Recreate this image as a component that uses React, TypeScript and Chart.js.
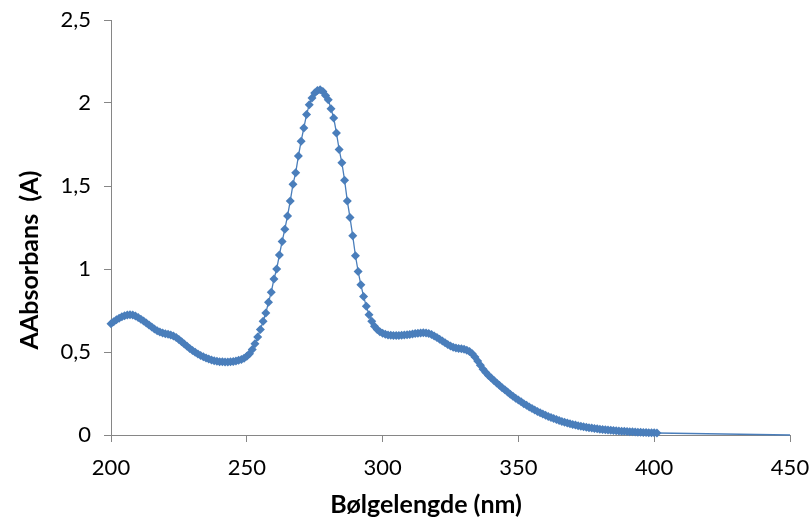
import React, { useEffect, useRef } from "react";
import { Chart, registerables } from "chart.js";

Chart.register(...registerables);

const wavelengths: number[] = [
  200, 201, 202, 203, 204, 205, 206, 207, 208, 209,
  210, 211, 212, 213, 214, 215, 216, 217, 218, 219,
  220, 221, 222, 223, 224, 225, 226, 227, 228, 229,
  230, 231, 232, 233, 234, 235, 236, 237, 238, 239,
  240, 241, 242, 243, 244, 245, 246, 247, 248, 249,
  250, 251, 252, 253, 254, 255, 256, 257, 258, 259,
  260, 261, 262, 263, 264, 265, 266, 267, 268, 269,
  270, 271, 272, 273, 274, 275, 276, 277, 278, 279,
  280, 281, 282, 283, 284, 285, 286, 287, 288, 289,
  290, 291, 292, 293, 294, 295, 296, 297, 298, 299,
  300, 301, 302, 303, 304, 305, 306, 307, 308, 309,
  310, 311, 312, 313, 314, 315, 316, 317, 318, 319,
  320, 321, 322, 323, 324, 325, 326, 327, 328, 329,
  330, 331, 332, 333, 334, 335, 336, 337, 338, 339,
  340, 341, 342, 343, 344, 345, 346, 347, 348, 349,
  350, 351, 352, 353, 354, 355, 356, 357, 358, 359,
  360, 361, 362, 363, 364, 365, 366, 367, 368, 369,
  370, 371, 372, 373, 374, 375, 376, 377, 378, 379,
  380, 381, 382, 383, 384, 385, 386, 387, 388, 389,
  390, 391, 392, 393, 394, 395, 396, 397, 398, 399,
  400, 401,
];

const absorbance: number[] = [
  0.670, 0.682, 0.694, 0.704, 0.713, 0.719, 0.723, 0.725, 0.723, 0.717,
  0.708, 0.698, 0.687, 0.675, 0.662, 0.650, 0.638, 0.628, 0.620, 0.614,
  0.610, 0.607, 0.603, 0.597, 0.588, 0.576, 0.562, 0.548, 0.534, 0.521,
  0.509, 0.498, 0.488, 0.479, 0.471, 0.464, 0.458, 0.452, 0.448, 0.445,
  0.442, 0.441, 0.440, 0.440, 0.441, 0.443, 0.446, 0.450, 0.455, 0.462,
  0.475, 0.490, 0.515, 0.550, 0.590, 0.635, 0.685, 0.735, 0.800, 0.860,
  0.940, 1.000, 1.085, 1.165, 1.240, 1.320, 1.410, 1.510, 1.580, 1.680,
  1.770, 1.850, 1.930, 1.990, 2.030, 2.060, 2.075, 2.080, 2.070, 2.045,
  2.020, 1.965, 1.910, 1.820, 1.720, 1.640, 1.535, 1.410, 1.310, 1.200,
  1.080, 0.985, 0.905, 0.835, 0.775, 0.725, 0.685, 0.655, 0.635, 0.622,
  0.613, 0.607, 0.603, 0.601, 0.600, 0.600, 0.600, 0.601, 0.602, 0.604,
  0.606, 0.608, 0.611, 0.613, 0.615, 0.616, 0.615, 0.611, 0.605, 0.597,
  0.587, 0.577, 0.566, 0.555, 0.545, 0.536, 0.529, 0.524, 0.521, 0.519,
  0.516, 0.511, 0.503, 0.490, 0.470, 0.446, 0.420, 0.396, 0.376, 0.359,
  0.343, 0.328, 0.313, 0.299, 0.285, 0.272, 0.259, 0.246, 0.234, 0.222,
  0.211, 0.200, 0.189, 0.179, 0.169, 0.160, 0.151, 0.142, 0.134, 0.126,
  0.119, 0.112, 0.105, 0.099, 0.093, 0.087, 0.082, 0.077, 0.072, 0.068,
  0.064, 0.060, 0.056, 0.053, 0.050, 0.047, 0.044, 0.042, 0.039, 0.037,
  0.035, 0.033, 0.031, 0.030, 0.028, 0.027, 0.025, 0.024, 0.023, 0.022,
  0.021, 0.020, 0.019, 0.018, 0.017, 0.016, 0.015, 0.015, 0.014, 0.013,
  0.013, 0.012,
];

// thin baseline segment continuing past the last measured point
const tailX: number[] = [401, 450];
const tailY: number[] = [0.012, 0.0];

const xTitle = "Bølgelengde (nm)";
const yTitle = "AAbsorbans  (A)";

const BLUE = "#4A7EBB";
const AXIS = "#868686";
const FONT = "Lato, 'Open Sans', sans-serif";

const titlePlugin = {
  id: "customTitles",
  afterDraw(chart: any) {
    const ctx = chart.ctx;
    ctx.save();
    ctx.fillStyle = "#000";
    ctx.font = `bold 25px ${FONT}`;
    ctx.textAlign = "center";
    ctx.textBaseline = "alphabetic";
    ctx.fillText(xTitle, 426, 513);
    ctx.translate(38, 260);
    ctx.rotate(-Math.PI / 2);
    ctx.fillText(yTitle, 0, 0);
    ctx.restore();
  },
};

export default function App() {
  const ref = useRef<HTMLCanvasElement | null>(null);
  useEffect(() => {
    if (!ref.current) return;
    const chart = new Chart(ref.current, {
      type: "scatter",
      data: {
        datasets: [
          {
            data: wavelengths.map((x, i) => ({ x, y: absorbance[i] })),
            showLine: true,
            borderColor: BLUE,
            borderWidth: 1.3,
            backgroundColor: BLUE,
            pointStyle: "rectRot",
            pointRadius: 4.5,
            pointBorderWidth: 0,
            pointBackgroundColor: BLUE,
            clip: false,
          },
          {
            data: tailX.map((x, i) => ({ x, y: tailY[i] })),
            showLine: true,
            borderColor: BLUE,
            borderWidth: 1.6,
            pointRadius: 0,
            clip: false,
          },
        ],
      },
      options: {
        responsive: false,
        animation: false,
        layout: { padding: { left: 0, right: 22, top: 20, bottom: 0 } },
        plugins: { legend: { display: false }, tooltip: { enabled: false } },
        scales: {
          x: {
            type: "linear",
            min: 200,
            max: 450,
            afterFit: (s: any) => {
              s.height = 86;
              s.paddingLeft = 0;
              s.paddingRight = 0;
            },
            ticks: {
              stepSize: 50,
              color: "#000",
              font: { family: FONT, size: 22 },
              padding: 13,
              maxRotation: 0,
            },
            grid: {
              drawOnChartArea: false,
              drawTicks: true,
              tickLength: 7,
              color: AXIS,
            },
            border: { color: AXIS, width: 1 },
          },
          y: {
            type: "linear",
            min: 0,
            max: 2.5,
            afterFit: (s: any) => {
              s.width = 111;
              s.paddingTop = 0;
              s.paddingBottom = 0;
            },
            ticks: {
              stepSize: 0.5,
              color: "#000",
              font: { family: FONT, size: 22 },
              padding: 13,
              callback: (v: any) => String(v).replace(".", ","),
            },
            grid: {
              drawOnChartArea: false,
              drawTicks: true,
              tickLength: 7,
              color: AXIS,
            },
            border: { color: AXIS, width: 1 },
          },
        },
      },
      plugins: [titlePlugin],
    });
    return () => chart.destroy();
  }, []);
  return (
    <div style={{ position: "fixed", left: 0, top: 0, width: 812, height: 521, background: "#fff" }}>
      <canvas ref={ref} width={812} height={521} style={{ display: "block" }} />
    </div>
  );
}
